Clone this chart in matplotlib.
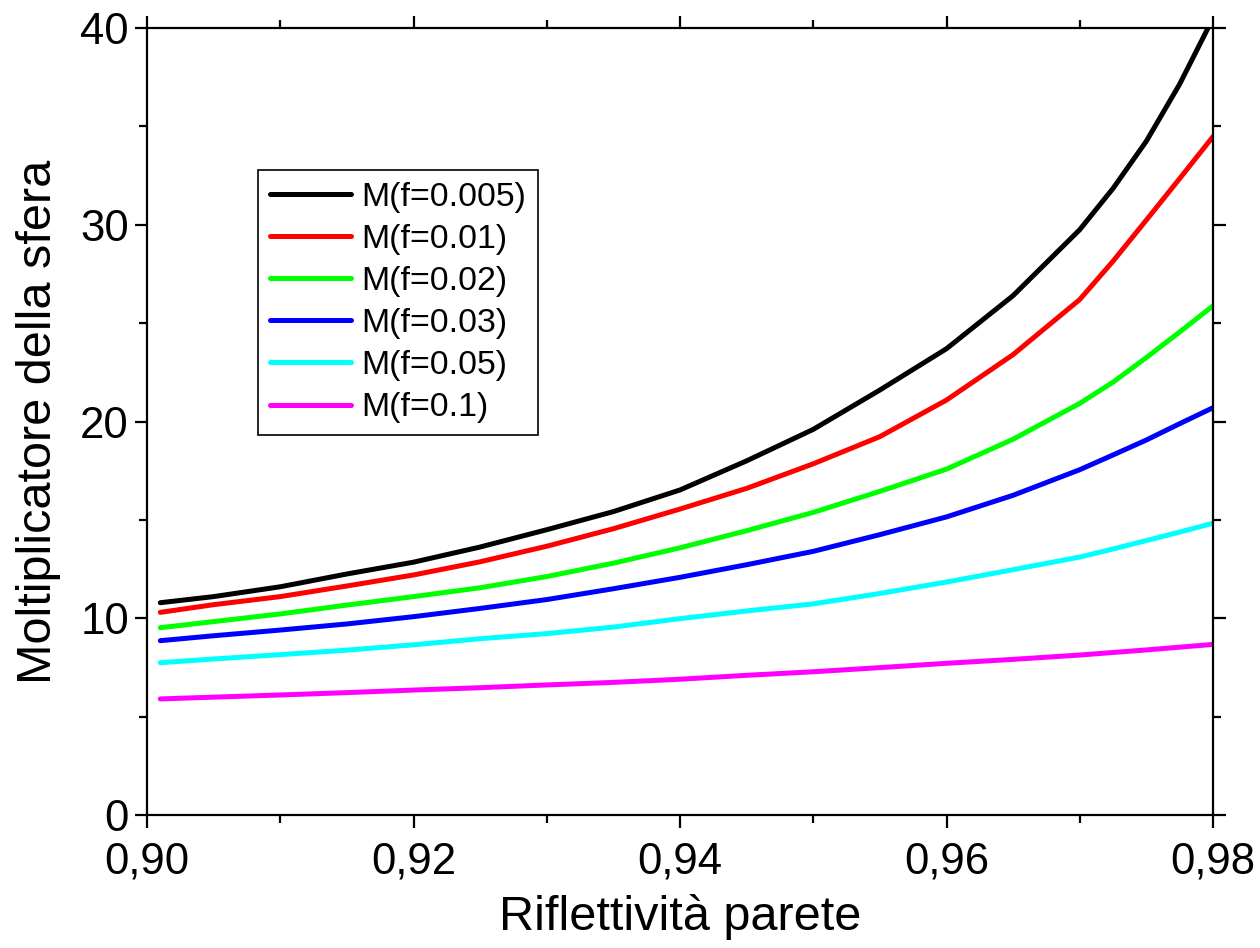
import matplotlib
matplotlib.use('Agg')
import matplotlib.pyplot as plt
from matplotlib.ticker import MultipleLocator, FuncFormatter

plt.rcParams['font.family'] = ['Liberation Sans', 'DejaVu Sans']

# riflettivita' della parete (asse x)
rho = [0.901, 0.905, 0.91, 0.915, 0.92, 0.925, 0.93, 0.935, 0.94, 0.945,
       0.95, 0.955, 0.96, 0.965, 0.97, 0.9725, 0.975, 0.9775, 0.98]

# moltiplicatore della sfera, una serie per f
m_f0005 = [10.79, 11.10, 11.60, 12.25, 12.85, 13.62, 14.50, 15.42, 16.52, 18.00,
           19.60, 21.60, 23.70, 26.40, 29.75, 31.85, 34.25, 37.15, 40.50]
m_f001 = [10.30, 10.69, 11.10, 11.64, 12.20, 12.87, 13.66, 14.55, 15.55, 16.60,
          17.85, 19.23, 21.09, 23.40, 26.20, 28.15, 30.24, 32.35, 34.48]
m_f002 = [9.52, 9.83, 10.22, 10.67, 11.10, 11.55, 12.12, 12.80, 13.58, 14.45,
          15.38, 16.45, 17.58, 19.10, 20.92, 22.00, 23.25, 24.55, 25.88]
m_f003 = [8.86, 9.11, 9.40, 9.71, 10.08, 10.50, 10.95, 11.50, 12.08, 12.72,
          13.40, 14.25, 15.15, 16.25, 17.55, 18.30, 19.06, 19.89, 20.70]
m_f005 = [7.74, 7.93, 8.15, 8.38, 8.65, 8.96, 9.22, 9.55, 9.98, 10.37,
          10.73, 11.26, 11.84, 12.47, 13.11, 13.52, 13.95, 14.38, 14.83]
m_f01 = [5.90, 5.99, 6.10, 6.22, 6.35, 6.47, 6.61, 6.74, 6.90, 7.10,
         7.28, 7.49, 7.71, 7.91, 8.13, 8.26, 8.39, 8.53, 8.67]

labels = ['M(f=0.005)', 'M(f=0.01)', 'M(f=0.02)', 'M(f=0.03)', 'M(f=0.05)', 'M(f=0.1)']
series = [m_f0005, m_f001, m_f002, m_f003, m_f005, m_f01]
colors = ['#000000', '#ff0000', '#00ff00', '#0000ff', '#00ffff', '#ff00ff']

fig = plt.figure(figsize=(12.6, 9.48), dpi=100)
ax = fig.add_axes([147 / 1260, 1 - 815 / 948, 1066 / 1260, 787 / 948])

for y, lab, c in zip(series, labels, colors):
    ax.plot(rho, y, color=c, linewidth=3.6, label=lab,
            solid_capstyle='round', solid_joinstyle='round')

ax.set_xlim(0.90, 0.98)
ax.set_ylim(0, 40)

ax.xaxis.set_major_locator(MultipleLocator(0.02))
ax.xaxis.set_minor_locator(MultipleLocator(0.01))
ax.yaxis.set_major_locator(MultipleLocator(10))
ax.yaxis.set_minor_locator(MultipleLocator(5))
ax.xaxis.set_major_formatter(FuncFormatter(lambda v, p: ('%.2f' % v).replace('.', ',')))

for s in ax.spines.values():
    s.set_linewidth(1.6)

ax.tick_params(which='both', direction='out', top=True, right=True, width=1.6)
ax.tick_params(which='major', length=9)
ax.tick_params(which='minor', length=5.5)
ax.tick_params(axis='x', which='major', labelsize=31.5, pad=10)
ax.tick_params(axis='y', which='major', labelsize=31.5, pad=4)

ax.set_xlabel('Riflettività parete', fontsize=35, labelpad=8)
ax.set_ylabel('Moltiplicatore della sfera', fontsize=35, labelpad=14)

leg = ax.legend(loc='upper left', bbox_to_anchor=(0.104, 0.82), borderaxespad=0,
                fontsize=24.4, handlelength=2.4, handletextpad=0.3,
                labelspacing=0.33, borderpad=0.35, fancybox=False,
                frameon=True, edgecolor='black', framealpha=1)
leg.get_frame().set_linewidth(1.2)

fig.savefig('out.png', dpi=100)
